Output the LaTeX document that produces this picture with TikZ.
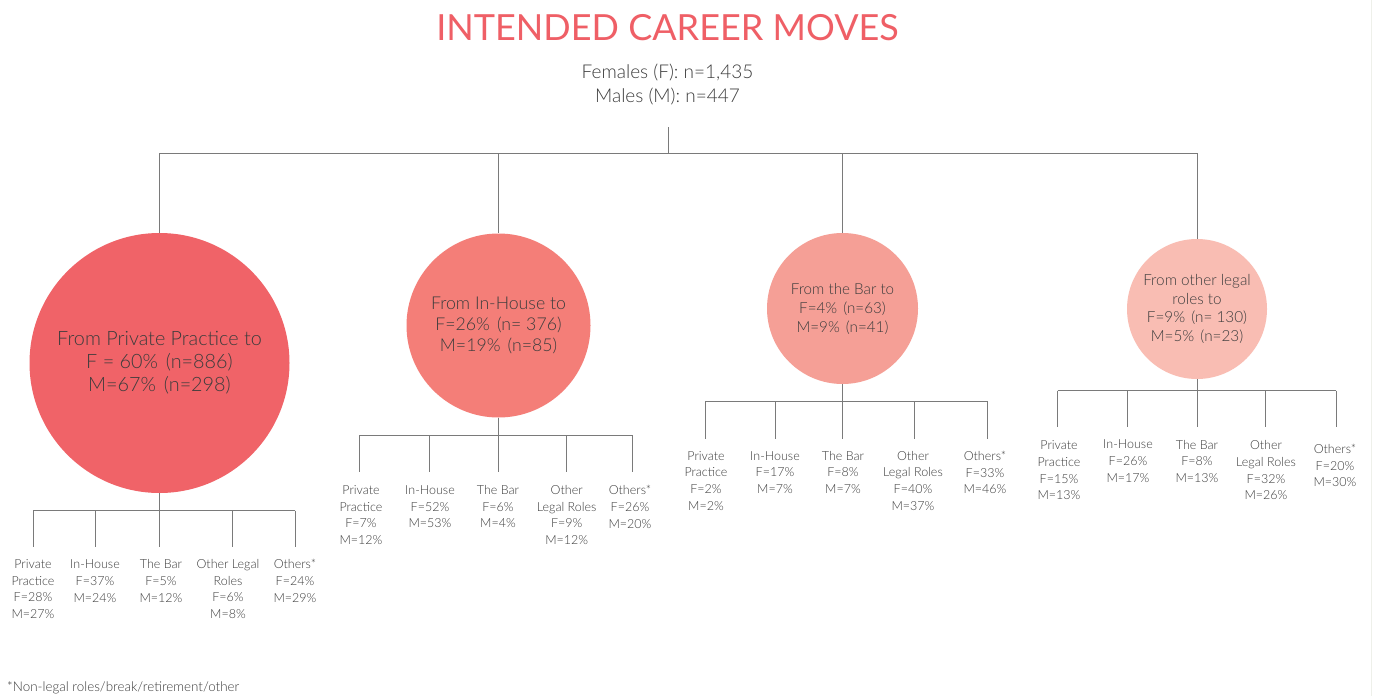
\documentclass[tikz,border=0pt]{standalone}
\usepackage{fontspec}
\setmainfont{Lato Light}
\newfontfamily\titlefont{Lato}
\definecolor{titlered}{HTML}{EF5F66}
\definecolor{cA}{HTML}{F06368}
\definecolor{cB}{HTML}{F47E78}
\definecolor{cC}{HTML}{F59F96}
\definecolor{cD}{HTML}{F9BDB3}
\definecolor{txt}{HTML}{3C3C3C}
\definecolor{ln}{HTML}{7A7A7A}
\definecolor{edge}{HTML}{EEF0EA}
\begin{document}
\begin{tikzpicture}[x=1pt,y=-1pt,
  conn/.style={draw=ln,line width=0.9pt},
  bubble/.style={circle,inner sep=0pt,align=center,text=txt},
  leaf/.style={align=center,text=txt,inner sep=0pt,font=\fontsize{12.5}{16.7}\selectfont}]
\useasboundingbox[fill=white] (0,0) rectangle (1373,696);
\draw[edge,line width=1pt] (1371.5,0) -- (1371.5,696);

% title and sample sizes
\node[font=\titlefont\fontsize{36}{40}\selectfont,text=titlered,inner sep=0pt] (title) at (667.5,28) {INTENDED CAREER MOVES};
\node[font=\fontsize{19}{24}\selectfont,text=txt,align=center,inner sep=0pt] (sub) at (667.5,85) {Females (F):\ n=1,435\\Males (M):\ n=447};
\coordinate (stem) at (668,127);
\coordinate (bar) at (668,153);

% bubbles
\node[bubble,fill=cA,minimum size=260pt,font=\fontsize{19.8}{23}\selectfont] (c1) at (159.5,363)
  {From Private Practice to\\F = 60\%\hspace{0.4em}(n=886)\\M=67\%\hspace{0.4em}(n=298)};
\node[bubble,fill=cB,minimum size=184pt,font=\fontsize{17.7}{21}\selectfont] (c2) at (498.5,325.5)
  {From In-House to\\F=26\%\hspace{0.4em}(n= 376)\\M=19\%\hspace{0.4em}(n=85)};
\node[bubble,fill=cC,minimum size=151pt,font=\fontsize{15.2}{19}\selectfont] (c3) at (842.5,308.5)
  {From the Bar to\\F=4\%\hspace{0.4em}(n=63)\\M=9\%\hspace{0.4em}(n=41)};
\node[bubble,fill=cD,minimum size=140pt,font=\fontsize{15.3}{18.7}\selectfont] (c4) at (1197,309)
  {From other legal\\roles to\\F=9\%\hspace{0.4em}(n= 130)\\M=5\%\hspace{0.4em}(n=23)};

% top connectors
\draw[conn] (stem) -- (bar);
\draw[conn] (c1.north |- bar) -- (c4.north |- bar);
\foreach \c in {c1,c2,c3,c4} \draw[conn] (\c.north |- bar) -- (\c.north);

% subtree 1
\coordinate (j1) at (0,510.7);
\foreach \i/\x in {1/33,2/95,3/159.5,4/232,5/295} \coordinate (t1\i) at (\x,546.7);
\draw[conn] (c1.south) -- (c1.south |- j1);
\draw[conn] (t11 |- j1) -- (t15 |- j1);
\foreach \i in {1,...,5} \draw[conn] (t1\i |- j1) -- (t1\i);
\node[leaf] (l11) at (33,589) {Private\\Practice\\F=28\%\\M=27\%};
\node[leaf] (l12) at (95,581) {In-House\\F=37\%\\M=24\%};
\node[leaf] (l13) at (161,581) {The Bar\\F=5\%\\M=12\%};
\node[leaf] (l14) at (228,589) {Other Legal\\Roles\\F=6\%\\M=8\%};
\node[leaf] (l15) at (295,581) {Others*\\F=24\%\\M=29\%};

% subtree 2
\coordinate (j2) at (0,435);
\foreach \i/\x in {1/359.3,2/429.3,3/498.5,4/566.7,5/632} \coordinate (t2\i) at (\x,471.7);
\draw[conn] (c2.south) -- (c2.south |- j2);
\draw[conn] (t21 |- j2) -- (t25 |- j2);
\foreach \i in {1,...,5} \draw[conn] (t2\i |- j2) -- (t2\i);
\node[leaf] (l21) at (361,515) {Private\\Practice\\F=7\%\\M=12\%};
\node[leaf] (l22) at (430,506.7) {In-House\\F=52\%\\M=53\%};
\node[leaf] (l23) at (498,506.7) {The Bar\\F=6\%\\M=4\%};
\node[leaf] (l24) at (566.7,515) {Other\\Legal Roles\\F=9\%\\M=12\%};
\node[leaf] (l25) at (630,506.7) {Others*\\F=26\%\\M=20\%};

% subtree 3
\coordinate (j3) at (0,401.7);
\foreach \i/\x in {1/705,2/775,3/842.5,4/914.3,5/987.7} \coordinate (t3\i) at (\x,439.3);
\draw[conn] (c3.south) -- (c3.south |- j3);
\draw[conn] (t31 |- j3) -- (t35 |- j3);
\foreach \i in {1,...,5} \draw[conn] (t3\i |- j3) -- (t3\i);
\node[leaf] (l31) at (706,480.8) {Private\\Practice\\F=2\%\\M=2\%};
\node[leaf] (l32) at (775,472.4) {In-House\\F=17\%\\M=7\%};
\node[leaf] (l33) at (843,472.4) {The Bar\\F=8\%\\M=7\%};
\node[leaf] (l34) at (913,480.8) {Other\\Legal Roles\\F=40\%\\M=37\%};
\node[leaf] (l35) at (985,472.4) {Others*\\F=33\%\\M=46\%};

% subtree 4
\coordinate (j4) at (0,390.7);
\foreach \i/\x in {1/1057.7,2/1127.7,3/1197,4/1265.7,5/1336} \coordinate (t4\i) at (\x,426.7);
\draw[conn] (c4.south) -- (c4.south |- j4);
\draw[conn] (t41 |- j4) -- (t45 |- j4);
\foreach \i in {1,...,5} \draw[conn] (t4\i |- j4) -- (t4\i);
\node[leaf] (l41) at (1059,470.3) {Private\\Practice\\F=15\%\\M=13\%};
\node[leaf] (l42) at (1128,461.3) {In-House\\F=26\%\\M=17\%};
\node[leaf] (l43) at (1197,461.3) {The Bar\\F=8\%\\M=13\%};
\node[leaf] (l44) at (1266,470.3) {Other\\Legal Roles\\F=32\%\\M=26\%};
\node[leaf] (l45) at (1335,465.5) {Others*\\F=20\%\\M=30\%};

% footnote
\node[anchor=west,inner sep=0pt,text=txt,font=\fontsize{13.4}{15}\selectfont] (foot) at (7,688) {*Non-legal roles/break/retirement/other};
\end{tikzpicture}
\end{document}
